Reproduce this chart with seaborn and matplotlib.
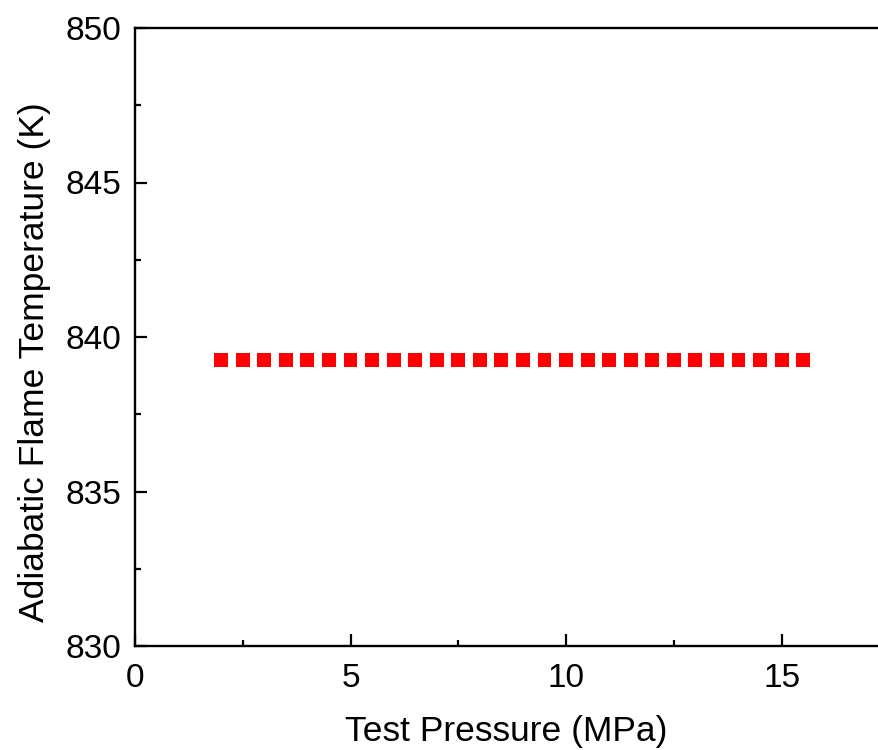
import matplotlib
matplotlib.use("Agg")
import matplotlib.pyplot as plt
import seaborn as sns
import pandas as pd
from matplotlib.ticker import MultipleLocator

pressure = [2.0, 2.5, 3.0, 3.5, 4.0, 4.5, 5.0, 5.5, 6.0, 6.5, 7.0, 7.5, 8.0, 8.5,
            9.0, 9.5, 10.0, 10.5, 11.0, 11.5, 12.0, 12.5, 13.0, 13.5, 14.0, 14.5, 15.0, 15.5]
temperature = [839.25] * 28

df = pd.DataFrame({"p": pressure, "t": temperature})

sns.set_style("ticks")
plt.rcParams['font.family'] = ['Liberation Sans', 'DejaVu Sans']
plt.rcParams['text.color'] = 'black'
plt.rcParams['axes.labelcolor'] = 'black'
plt.rcParams['xtick.color'] = 'black'
plt.rcParams['ytick.color'] = 'black'

fig = plt.figure(figsize=(8.79, 7.5), dpi=100)
ax = fig.add_axes([135/879, 104/750, 776/879, 618/750])

sns.scatterplot(data=df, x="p", y="t", marker="s", s=100, color="#ff0000",
                edgecolor="none", ax=ax, legend=False)

ax.set_xlim(0, 18)
ax.set_ylim(830, 850)
ax.xaxis.set_major_locator(MultipleLocator(5))
ax.xaxis.set_minor_locator(MultipleLocator(2.5))
ax.yaxis.set_major_locator(MultipleLocator(5))
ax.yaxis.set_minor_locator(MultipleLocator(2.5))
ax.tick_params(which="major", direction="in", length=8.5, width=1.6, labelsize=24,
               colors="black")
ax.tick_params(axis="x", which="major", pad=12)
ax.tick_params(axis="y", which="major", pad=10)
ax.tick_params(which="minor", direction="in", length=4.5, width=1.6, colors="black")
ax.tick_params(axis="x", which="both", top=False)
ax.tick_params(axis="y", which="both", right=False)
for sp in ax.spines.values():
    sp.set_visible(True)
    sp.set_linewidth(1.7)
    sp.set_color("black")

ax.set_xlabel("Test Pressure (MPa)", fontsize=25.5, labelpad=15, color="black")
ax.set_ylabel("Adiabatic Flame Temperature (K)", fontsize=25.5, labelpad=10, color="black")
ax.xaxis.label.set_x(0.478)
ax.yaxis.label.set_y(0.4595)

fig.savefig("out.png", dpi=100)
